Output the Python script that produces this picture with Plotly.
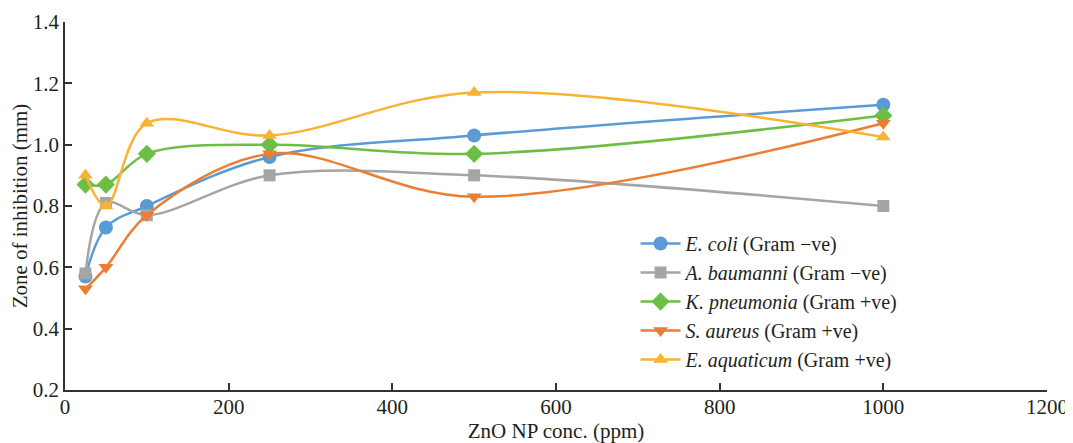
import plotly.graph_objects as go

conc = [25, 50, 100, 250, 500, 1000]
e_coli = [0.57, 0.73, 0.80, 0.96, 1.03, 1.13]
a_baumanni = [0.58, 0.81, 0.77, 0.90, 0.90, 0.80]
k_pneumonia = [0.87, 0.87, 0.97, 1.00, 0.97, 1.095]
s_aureus = [0.53, 0.60, 0.77, 0.97, 0.83, 1.07]
e_aquaticum = [0.90, 0.80, 1.07, 1.03, 1.17, 1.025]

series = [
    ("<i>E. coli</i> (Gram −ve)", e_coli, "#5B9BD5", "circle", 14),
    ("<i>A. baumanni</i> (Gram −ve)", a_baumanni, "#A5A5A5", "square", 12),
    ("<i>K. pneumonia</i> (Gram +ve)", k_pneumonia, "#6DBE45", "diamond", 14),
    ("<i>S. aureus</i> (Gram +ve)", s_aureus, "#ED7D31", "triangle-down", 13),
    ("<i>E. aquaticum</i> (Gram +ve)", e_aquaticum, "#F9B233", "triangle-up", 13),
]

fig = go.Figure()
for name, vals, color, sym, size in series:
    fig.add_trace(go.Scatter(
        x=conc, y=vals, name=name, mode="lines+markers",
        line=dict(color=color, width=2.5, shape="spline", smoothing=1),
        marker=dict(color=color, symbol=sym, size=size),
    ))

font = "Liberation Serif, Times New Roman, serif"
axis_common = dict(
    showgrid=False, zeroline=False, showline=True, linecolor="#333333", linewidth=1.5,
    ticks="inside", ticklen=7, tickcolor="#333333", tickwidth=1.5,
    tickfont=dict(family=font, size=21, color="#231F20"), automargin=False,
)
fig.update_layout(
    width=1073, height=443,
    margin=dict(l=57, r=34, t=14, b=61),
    paper_bgcolor="white", plot_bgcolor="white",
    font=dict(family=font, size=20, color="#231F20"),
    xaxis=dict(range=[0, 1200], dtick=200, ticklabelstandoff=-3,
               title=dict(text="ZnO NP conc. (ppm)", font=dict(family=font, size=21), standoff=0),
               **axis_common),
    yaxis=dict(range=[0.2, 1.4], dtick=0.2, tickformat=".1f",
               title=dict(text="Zone of inhibition (mm)", font=dict(family=font, size=21), standoff=4),
               **axis_common),
    legend=dict(x=0.581, y=0.451, xanchor="left", yanchor="top", bgcolor="rgba(0,0,0,0)",
                font=dict(family=font, size=20), tracegroupgap=0, itemwidth=40),
    showlegend=True,
)
fig.write_html("out.html")
